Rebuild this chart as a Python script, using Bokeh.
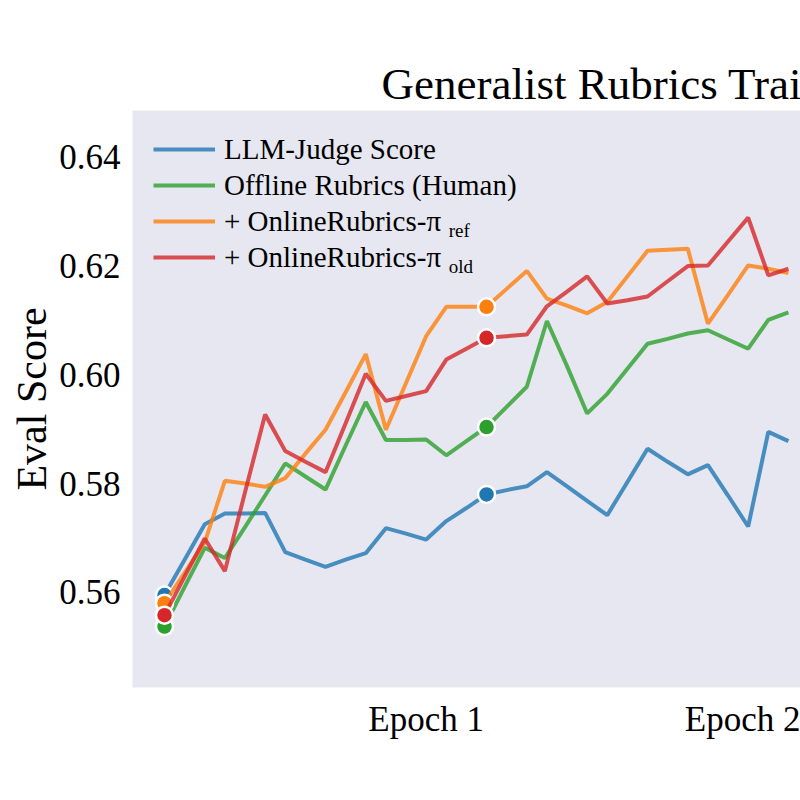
from bokeh.plotting import figure
from bokeh.models import (ColumnDataSource, Legend, LegendItem, FixedTicker,
                          CustomJSTickFormatter, NumeralTickFormatter, Range1d, Label)
from bokeh.embed import file_html
from bokeh.resources import INLINE

# ---- data (training step index -> eval score) ----
steps = list(range(32))
llm_judge = [0.5595, 0.5660, 0.5725, 0.5745, 0.5745, 0.5746, 0.5674, 0.5660,
             0.5647, 0.5660, 0.5672, 0.5718, 0.5708, 0.5697, 0.5731, 0.5755,
             0.5780, 0.5788, 0.5795, 0.5821, 0.5795, 0.5768, 0.5742, 0.5803,
             0.5864, 0.5840, 0.5817, 0.5834, 0.5778, 0.5721, 0.5895, 0.5878]
offline_human = [0.5537, 0.5610, 0.5682, 0.5663, 0.5720, 0.5778, 0.5837, 0.5813,
                 0.5789, 0.5870, 0.5950, 0.5880, 0.5880, 0.5881, 0.5852, 0.5878,
                 0.5904, 0.5941, 0.5978, 0.6099, 0.6016, 0.5929, 0.5965, 0.6011,
                 0.6057, 0.6066, 0.6076, 0.6082, 0.6065, 0.6048, 0.6101, 0.6115]
online_ref = [0.5580, 0.5636, 0.5692, 0.5805, 0.5800, 0.5794, 0.5810, 0.5855,
              0.5899, 0.5968, 0.6038, 0.5899, 0.5985, 0.6071, 0.6125, 0.6125,
              0.6125, 0.6158, 0.6191, 0.6140, 0.6127, 0.6113, 0.6134, 0.6181,
              0.6228, 0.6230, 0.6232, 0.6094, 0.6147, 0.6201, 0.6195, 0.6187]
online_old = [0.5558, 0.5629, 0.5699, 0.5639, 0.5784, 0.5927, 0.5860, 0.5840,
              0.5821, 0.5911, 0.6002, 0.5952, 0.5961, 0.5970, 0.6028, 0.6048,
              0.6068, 0.6071, 0.6074, 0.6126, 0.6153, 0.6181, 0.6131, 0.6137,
              0.6144, 0.6172, 0.6200, 0.6201, 0.6245, 0.6289, 0.6183, 0.6195]
marker_steps = [0, 16]
series_names = ["LLM-Judge Score", "Offline Rubrics (Human)",
                "+ OnlineRubrics-\u03c0", "+ OnlineRubrics-\u03c0"]
subscripts = ["ref", "old"]
epoch_ticks = [13.0, 29.1]
epoch_labels = ["Epoch 1", "Epoch 2"]
y_ticks = [0.56, 0.58, 0.60, 0.62, 0.64]
title_text = "Generalist Rubrics Training"

FONT = "Liberation Serif"
colors = ["#1f77b4", "#2ca02c", "#ff7f0e", "#d62728"]
series = [llm_judge, offline_human, online_ref, online_old]

p = figure(width=800, height=800, output_backend="svg", toolbar_location=None,
           x_range=Range1d(-1.59, 31.6), y_range=Range1d(0.5425, 0.6486),
           min_border_left=132, min_border_right=0, min_border_top=110,
           min_border_bottom=113, background_fill_color="#E6E7F0",
           border_fill_color="white", outline_line_color=None)

p.title.text = title_text
p.title.text_font = FONT
p.title.text_font_size = "45px"
p.title.text_font_style = "normal"
p.title.text_color = "black"
p.title.align = "left"
p.title.offset = 249
p.title.standoff = 4

p.xgrid.visible = False
p.ygrid.visible = False

items = []
for name, vals, col in zip(series_names, series, colors):
    src = ColumnDataSource(dict(x=steps, y=vals))
    r = p.line("x", "y", source=src, line_color=col, line_width=4, line_alpha=0.8)
    msrc = ColumnDataSource(dict(x=[steps[i] for i in marker_steps],
                                 y=[vals[i] for i in marker_steps]))
    p.scatter("x", "y", source=msrc, size=17, fill_color=col, line_color="white",
              line_width=2.5)
    items.append(LegendItem(label=name, renderers=[r]))

legend = Legend(items=items, location="top_left", background_fill_alpha=0,
                border_line_color=None, label_text_font=FONT,
                label_text_color="black",
                label_text_font_size="29px", glyph_width=62, glyph_height=36,
                label_height=36, spacing=0, label_standoff=9, padding=6,
                margin=21)
p.add_layout(legend)

# subscripts for the pi labels
for sub, yv in zip(subscripts, [0.6265, 0.6199]):
    p.add_layout(Label(x=14.12, y=yv, text=sub, text_font=FONT,
                       text_color="black",
                       text_font_size="19px", text_baseline="alphabetic"))

p.yaxis.ticker = FixedTicker(ticks=y_ticks)
p.yaxis.formatter = NumeralTickFormatter(format="0.00")
p.yaxis.axis_label = "Eval Score"
p.xaxis.ticker = FixedTicker(ticks=epoch_ticks)
p.xaxis.formatter = CustomJSTickFormatter(
    args=dict(epoch_pos=epoch_ticks, epoch_lab=epoch_labels),
    code="const i = epoch_pos.indexOf(tick); return i >= 0 ? epoch_lab[i] : '';")

for ax in (p.xaxis[0], p.yaxis[0]):
    ax.axis_line_color = None
    ax.major_tick_line_color = None
    ax.minor_tick_line_color = None
    ax.major_label_text_font = FONT
    ax.major_label_text_font_size = "35px"
    ax.major_label_text_color = "black"
    ax.axis_label_text_font = FONT
    ax.axis_label_text_font_size = "42px"
    ax.axis_label_text_font_style = "normal"
    ax.axis_label_text_color = "black"
    ax.major_label_standoff = 6
p.yaxis.axis_label_standoff = 1

open("out.html", "w").write(file_html(p, INLINE))
